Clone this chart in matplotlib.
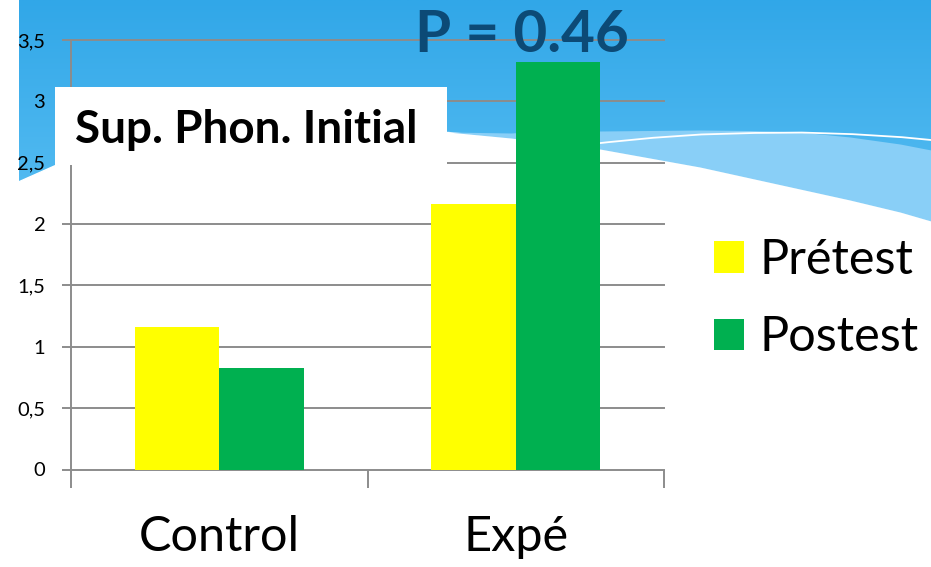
import numpy as np
import matplotlib.pyplot as plt
from matplotlib.patches import Rectangle

groupes = ["Control", "Expé"]
pretest = [1.16, 2.16]
postest = [0.83, 3.32]
series = ["Prétest", "Postest"]
yticks = [0, 0.5, 1, 1.5, 2, 2.5, 3, 3.5]
ytick_labels = ["0", "0,5", "1", "1,5", "2", "2,5", "3", "3,5"]
titre = "Sup. Phon. Initial"
p_valeur = "P = 0.46"

W, H = 931, 567
JAUNE = "#FFFF00"
VERT = "#00B050"
GRIS = "#8C8C8C"

plt.rcParams["font.family"] = ["Lato", "DejaVu Sans"]


def px(x, y):
    # pixel (from top-left) -> figure fraction
    return x / W, 1 - y / H


def dessiner_fond(fig):
    bg = fig.add_axes([0, 0, 1, 1], zorder=0)
    bg.set_xlim(0, W)
    bg.set_ylim(H, 0)
    bg.axis("off")

    # degrade bleu du haut
    grad = np.linspace(0, 1, 200).reshape(-1, 1)
    c0 = np.array([0x31, 0xA7, 0xE8]) / 255
    c1 = np.array([0x5A, 0xBF, 0xF3]) / 255
    img = c0 + grad[..., None] * (c1 - c0)
    img = np.repeat(img, 2, axis=1)
    bg.imshow(img, extent=(19, W, 235, 0), aspect="auto", zorder=0)

    xs = np.linspace(19, W, 600)
    # bas du bleu fonce
    ax_k = [19, 55, 150, 250, 350, 448, 511, 545, 600, 650, 700, 750, 800, 850, 900, 931]
    ay_k = [181, 165, 150, 139, 132, 132, 133, 131, 131, 130.5, 130, 130.5, 132, 137, 144, 150]
    # bord du blanc
    wx_k = [19, 55, 150, 250, 350, 448, 511, 600, 650, 700, 750, 800, 850, 900, 931]
    wy_k = [181, 165, 150, 139, 132, 132, 138, 149, 158, 167, 178, 189, 200, 212, 221]
    ya = np.interp(xs, ax_k, ay_k)
    yw = np.interp(xs, wx_k, wy_k)

    bg.fill_between(xs, yw, 240, color="white", zorder=1)
    bg.fill_between(xs, ya, yw, where=yw > ya, color="#89CFF7", zorder=1,
                    linewidth=0)

    lx = [520, 600, 650, 700, 750, 800, 850, 900, 931]
    ly = [152, 143, 138, 134.5, 133, 132.5, 134, 137, 140]
    xl = np.linspace(520, W, 300)
    bg.plot(xl, np.interp(xl, lx, ly), color="white", lw=1.3, zorder=2)


def gerar_grafico():
    fig = plt.figure(figsize=(W / 100, H / 100), dpi=100)
    fig.patch.set_facecolor("white")
    dessiner_fond(fig)

    x0, y_top = px(71, 40)
    x1, y_bot = px(664, 469.5)
    ax = fig.add_axes([x0, y_bot, x1 - x0, y_top - y_bot], zorder=2)
    ax.patch.set_alpha(0)

    x = np.arange(len(groupes))
    larg = 0.285
    b1 = ax.bar(x - larg / 2, pretest, larg, color=JAUNE, label=series[0], zorder=3)
    b2 = ax.bar(x + larg / 2, postest, larg, color=VERT, label=series[1], zorder=3)

    ax.set_xlim(-0.5, 1.5)
    ax.set_ylim(0, 3.5)
    ax.set_yticks(yticks)
    ax.set_yticklabels(ytick_labels)
    ax.set_xticks(x)
    ax.set_xticklabels(groupes)
    ax.set_xticks([-0.5, 0.5, 1.5], minor=True)

    for s in ["top", "right", "bottom"]:
        ax.spines[s].set_visible(False)
    ax.spines["left"].set_color(GRIS)
    ax.spines["left"].set_linewidth(1.4)

    ax.yaxis.grid(True, color=GRIS, linewidth=1.4)
    for ligne in ax.get_ygridlines():
        ligne.set_clip_on(False)
    ax.set_axisbelow(True)

    ax.tick_params(axis="y", direction="out", length=6.5, width=1.4,
                   color=GRIS, labelsize=14.5, pad=12)
    ax.tick_params(axis="x", which="major", length=0, labelsize=35, pad=33)
    ax.tick_params(axis="x", which="minor", direction="out", length=13,
                   width=1.4, color=GRIS)

    fig.legend(handles=[b1, b2], labels=series, loc="upper left",
               bbox_to_anchor=px(690, 214), frameon=False, fontsize=35,
               handlelength=0.62, handleheight=0.62, handletextpad=0.3,
               labelspacing=0.68, borderpad=0)

    bx, by = px(55, 165)
    fig.add_artist(Rectangle((bx, by), 392 / W, 78 / H, transform=fig.transFigure,
                             facecolor="white", edgecolor="none", zorder=5))
    tx, ty = px(75, 143)
    fig.text(tx, ty, titre, fontsize=33, fontweight="bold", va="baseline",
             ha="left", zorder=6)
    px_, py_ = px(415, 52)
    fig.text(px_, py_, p_valeur, fontsize=42, fontweight="bold", color="#0C4A76",
             va="baseline", ha="left", zorder=6)

    fig.savefig("out.png", dpi=100)


def main():
    gerar_grafico()


if __name__ == "__main__":
    main()
